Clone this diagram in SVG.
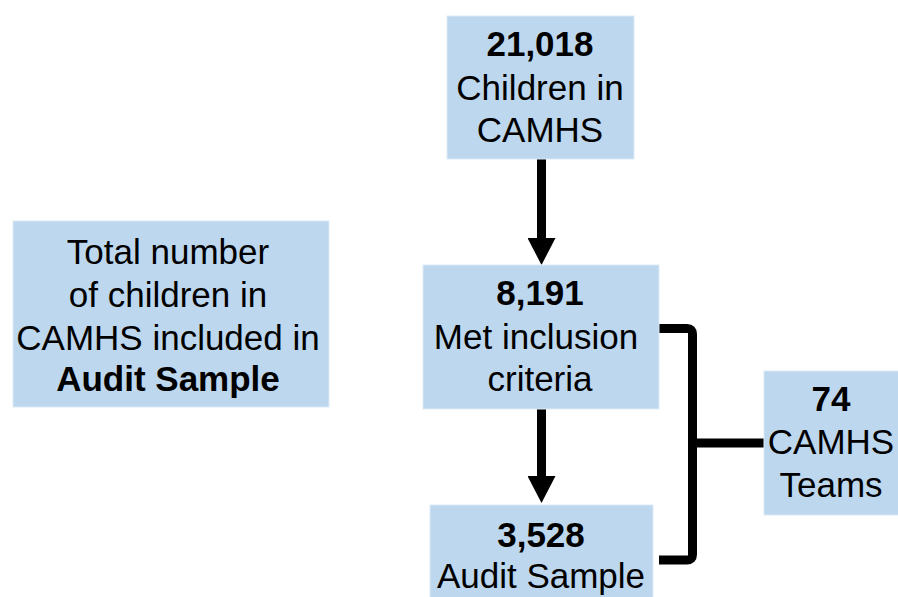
<svg xmlns="http://www.w3.org/2000/svg" width="898" height="597" viewBox="0 0 898 597">
<style>
.box{fill:#BDD7EE;stroke:#DCE9F5;stroke-width:1}
.t{font-family:"Liberation Sans",Arial,sans-serif;font-size:35px;fill:#000;text-anchor:middle}
.b{font-weight:bold}
.ln{fill:none;stroke:#000;stroke-width:9}
</style>
<defs>
<marker id="ah" markerUnits="userSpaceOnUse" markerWidth="27" markerHeight="28" viewBox="0 0 27 28" refX="0" refY="14" orient="auto">
<path d="M0,0 L27,14 L0,28 Z" fill="#000"/>
</marker>
</defs>
<rect width="898" height="597" fill="#fff"/>
<g id="connectors">
<line class="ln" x1="541.5" y1="159" x2="541.5" y2="238" marker-end="url(#ah)"/>
<line class="ln" x1="541.5" y1="398" x2="541.5" y2="476" marker-end="url(#ah)"/>
<path class="ln" d="M659,328.5 H687 Q692.5,328.5 692.5,334 V554.5 Q692.5,560 687,560 H659" stroke-linejoin="round"/>
<line class="ln" x1="692.5" y1="443" x2="765" y2="443"/>
</g>
<g id="node-total">
<rect class="box" x="13" y="221" width="316" height="186"/>
<text class="t" x="168" y="264">Total number</text>
<text class="t" x="168" y="307">of children in</text>
<text class="t" x="168" y="350">CAMHS included in</text>
<text class="t b" x="168" y="391">Audit Sample</text>
</g>
<g id="node-children">
<rect class="box" x="447" y="16" width="187" height="143"/>
<text class="t b" x="540" y="56">21,018</text>
<text class="t" x="540" y="100">Children in</text>
<text class="t" x="540" y="142">CAMHS</text>
</g>
<g id="node-inclusion">
<rect class="box" x="423" y="265" width="236" height="144"/>
<text class="t b" x="540" y="305">8,191</text>
<text class="t" x="536" y="349">Met inclusion</text>
<text class="t" x="540" y="391">criteria</text>
</g>
<g id="node-audit">
<rect class="box" x="430" y="505" width="223" height="100"/>
<text class="t b" x="541" y="547">3,528</text>
<text class="t" x="541" y="588">Audit Sample</text>
</g>
<g id="node-teams">
<rect class="box" x="764" y="371" width="140" height="144"/>
<text class="t b" x="831" y="411">74</text>
<text class="t" x="831" y="454">CAMHS</text>
<text class="t" x="831" y="497">Teams</text>
</g>
</svg>
